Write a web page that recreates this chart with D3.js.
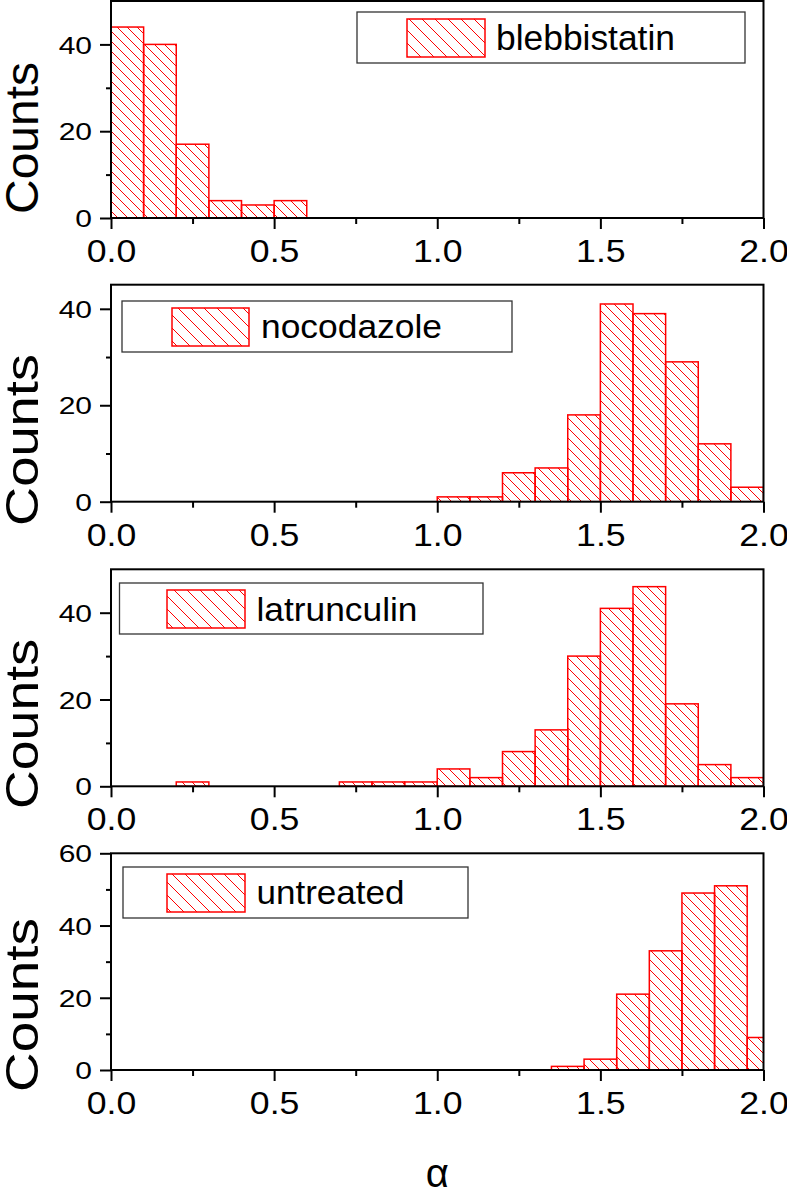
<!DOCTYPE html>
<html>
<head>
<meta charset="utf-8">
<script src="https://cdn.jsdelivr.net/npm/d3@7"></script>
<style>
  html, body { margin: 0; padding: 0; background: #fff; }
  svg { display: block; }
  text { font-family: "Liberation Sans", Arial, sans-serif; fill: #000; }
</style>
</head>
<body>
<script>
// ---------------- DATA ----------------
const binWidth = 0.1;
const seriesNames = ["blebbistatin", "nocodazole", "latrunculin", "untreated"];

const blebbistatinStarts = [0.0, 0.1, 0.2, 0.3, 0.4, 0.5];
const blebbistatinCounts = [44, 40, 17, 4, 3, 4];

const nocodazoleStarts = [1.0, 1.1, 1.2, 1.3, 1.4, 1.5, 1.6, 1.7, 1.8, 1.9];
const nocodazoleCounts = [1, 1, 6, 7, 18, 41, 39, 29, 12, 3];

const latrunculinStarts = [0.2, 0.7, 0.8, 0.9, 1.0, 1.1, 1.2, 1.3, 1.4, 1.5, 1.6, 1.7, 1.8, 1.9];
const latrunculinCounts = [1, 1, 1, 1, 4, 2, 8, 13, 30, 41, 46, 19, 5, 2];

const untreatedStarts = [1.35, 1.45, 1.55, 1.65, 1.75, 1.85, 1.95];
const untreatedCounts = [1, 3, 21, 33, 49, 51, 9];

const xTickValues = [0, 0.5, 1.0, 1.5, 2.0];
const xMinorTickValues = [0.25, 0.75, 1.25, 1.75];
const yMaxes = [50, 45, 50, 60];
const yTickValues = [[0, 20, 40], [0, 20, 40], [0, 20, 40], [0, 20, 40, 60]];
const yMinorTickValues = [[10, 30], [10, 30], [10, 30], [10, 30, 50]];
const xAxisTitle = "α";
const yAxisTitle = "Counts";

const seriesStarts = [blebbistatinStarts, nocodazoleStarts, latrunculinStarts, untreatedStarts];
const seriesCounts = [blebbistatinCounts, nocodazoleCounts, latrunculinCounts, untreatedCounts];

// ---------------- LAYOUT ----------------
const W = 787, H = 1189;
const plotLeft = 111, plotRight = 763.5;
const layout = [
  { top: 1,     bottom: 218,   legend: { x0: 357,   y0: 12,  x1: 745, y1: 63,  sx0: 407, sy0: 19,  sx1: 485, sy1: 57,  tx: 496,   ty: 50,  tl: 179, fs: 35 }, countsCy: 138, countsLen: 152 },
  { top: 284.7, bottom: 501.7, legend: { x0: 122,   y0: 301, x1: 512, y1: 352, sx0: 172, sy0: 308, sx1: 249, sy1: 346, tx: 261,   ty: 338, tl: 181, fs: 33 }, countsCy: 440, countsLen: 172 },
  { top: 569.3, bottom: 786.3, legend: { x0: 119.5, y0: 583, x1: 483, y1: 634, sx0: 167, sy0: 590, sx1: 245, sy1: 628, tx: 256.5, ty: 621, tl: 161, fs: 33 }, countsCy: 724, countsLen: 170 },
  { top: 853.3, bottom: 1070,  legend: { x0: 123,   y0: 867, x1: 468, y1: 918, sx0: 167, sy0: 874, sx1: 245, sy1: 912, tx: 256.5, ty: 904, tl: 148, fs: 33 }, countsCy: 1005, countsLen: 174 }
];

const RED = "#ff0000";

const svg = d3.select("body").append("svg")
  .attr("width", W).attr("height", H)
  .attr("viewBox", `0 0 ${W} ${H}`);

svg.append("rect").attr("width", W).attr("height", H).attr("fill", "#fff");

const defs = svg.append("defs");
function addHatch(id, s) {
  const p = defs.append("pattern")
    .attr("id", id).attr("patternUnits", "userSpaceOnUse")
    .attr("width", s).attr("height", s);
  p.append("path")
    .attr("d", `M${-2},${-2} L${s + 2},${s + 2} M${-2},${s - 2} L2,${s + 2} M${s - 2},${-2} L${s + 2},2`)
    .attr("stroke", RED).attr("stroke-width", 1).attr("fill", "none");
}
addHatch("hatch", 10);
addHatch("hatchLegend", 13);

const x = d3.scaleLinear().domain([0, 2]).range([plotLeft, plotRight]);

seriesNames.forEach((name, i) => {
  const L = layout[i];
  const y = d3.scaleLinear().domain([0, yMaxes[i]]).range([L.bottom, L.top]);
  const g = svg.append("g");

  defs.append("clipPath").attr("id", "clip" + i)
    .append("rect").attr("x", plotLeft).attr("y", L.top)
    .attr("width", plotRight - plotLeft).attr("height", L.bottom - L.top);

  const data = seriesStarts[i].map((s, k) => ({ start: s, count: seriesCounts[i][k] }));

  g.append("g").attr("clip-path", `url(#clip${i})`)
    .selectAll("rect").data(data).join("rect")
    .attr("x", d => x(d.start))
    .attr("y", d => y(d.count))
    .attr("width", d => x(d.start + binWidth) - x(d.start))
    .attr("height", d => y(0) - y(d.count))
    .attr("fill", "url(#hatch)")
    .attr("stroke", RED)
    .attr("stroke-width", 1.5);

  // frame
  g.append("rect")
    .attr("x", plotLeft).attr("y", L.top)
    .attr("width", plotRight - plotLeft).attr("height", L.bottom - L.top)
    .attr("fill", "none").attr("stroke", "#000").attr("stroke-width", 2);

  // x axis major
  const xa = g.append("g").attr("transform", `translate(0,${L.bottom})`)
    .call(d3.axisBottom(x).tickValues(xTickValues).tickSize(11).tickFormat(d3.format(".1f")));
  xa.select(".domain").remove();
  xa.selectAll("line").attr("stroke", "#000").attr("stroke-width", 2);
  xa.selectAll("text")
    .attr("y", 0).attr("dy", 0)
    .attr("transform", "translate(0,44) scale(1.15,1)")
    .style("font-size", "31px")
    .style("font-family", "'Liberation Sans', Arial, sans-serif")
    .attr("fill", "#000");

  const xm = g.append("g").attr("transform", `translate(0,${L.bottom})`)
    .call(d3.axisBottom(x).tickValues(xMinorTickValues).tickSize(6).tickFormat(""));
  xm.select(".domain").remove();
  xm.selectAll("line").attr("stroke", "#000").attr("stroke-width", 2);

  // y axis
  const ya = g.append("g").attr("transform", `translate(${plotLeft},0)`)
    .call(d3.axisLeft(y).tickValues(yTickValues[i]).tickSize(11).tickFormat(d3.format("d")));
  ya.select(".domain").remove();
  ya.selectAll("line").attr("stroke", "#000").attr("stroke-width", 2);
  ya.selectAll("text")
    .attr("x", 0).attr("dy", 0)
    .attr("text-anchor", "end")
    .attr("transform", "translate(-19,8.6) scale(1.25,1)")
    .style("font-size", "24px")
    .style("font-family", "'Liberation Sans', Arial, sans-serif")
    .attr("fill", "#000");

  const ym = g.append("g").attr("transform", `translate(${plotLeft},0)`)
    .call(d3.axisLeft(y).tickValues(yMinorTickValues[i]).tickSize(5).tickFormat(""));
  ym.select(".domain").remove();
  ym.selectAll("line").attr("stroke", "#000").attr("stroke-width", 2);

  // y title
  g.append("text")
    .attr("transform", `translate(38,${L.countsCy}) rotate(-90)`)
    .attr("text-anchor", "middle")
    .attr("textLength", L.countsLen)
    .attr("lengthAdjust", "spacingAndGlyphs")
    .style("font-size", "46px")
    .text(yAxisTitle);

  // legend
  const lg = L.legend;
  g.append("rect")
    .attr("x", lg.x0).attr("y", lg.y0)
    .attr("width", lg.x1 - lg.x0).attr("height", lg.y1 - lg.y0)
    .attr("fill", "#fff").attr("stroke", "#333").attr("stroke-width", 1.3);
  g.append("rect")
    .attr("x", lg.sx0).attr("y", lg.sy0)
    .attr("width", lg.sx1 - lg.sx0).attr("height", lg.sy1 - lg.sy0)
    .attr("fill", "url(#hatchLegend)").attr("stroke", RED).attr("stroke-width", 1.5);
  g.append("text")
    .attr("x", lg.tx).attr("y", lg.ty)
    .attr("textLength", lg.tl)
    .attr("lengthAdjust", "spacingAndGlyphs")
    .style("font-size", lg.fs + "px")
    .text(name);
});

// x title
svg.append("text")
  .attr("x", (plotLeft + plotRight) / 2).attr("y", 1187)
  .attr("text-anchor", "middle")
  .style("font-size", "40px")
  .text(xAxisTitle);
</script>
</body>
</html>
